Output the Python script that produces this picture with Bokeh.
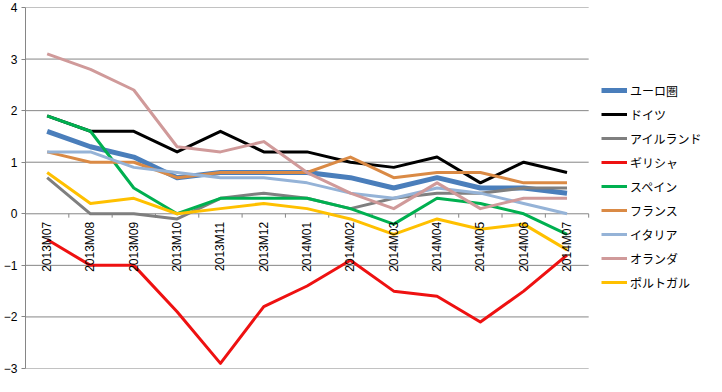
import math
from bokeh.plotting import figure
from bokeh.models import Range1d, FixedTicker, Legend, LegendItem, ColumnDataSource
from bokeh.core.properties import value
from bokeh.embed import file_html
from bokeh.resources import INLINE

months = ["2013M07", "2013M08", "2013M09", "2013M10", "2013M11", "2013M12",
          "2014M01", "2014M02", "2014M03", "2014M04", "2014M05", "2014M06", "2014M07"]

euro_area   = [1.6, 1.3, 1.1, 0.7, 0.8, 0.8, 0.8, 0.7, 0.5, 0.7, 0.5, 0.5, 0.4]
germany     = [1.9, 1.6, 1.6, 1.2, 1.6, 1.2, 1.2, 1.0, 0.9, 1.1, 0.6, 1.0, 0.8]
ireland     = [0.7, 0.0, 0.0, -0.1, 0.3, 0.4, 0.3, 0.1, 0.3, 0.4, 0.4, 0.5, 0.5]
greece      = [-0.5, -1.0, -1.0, -1.9, -2.9, -1.8, -1.4, -0.9, -1.5, -1.6, -2.1, -1.5, -0.8]
spain       = [1.9, 1.6, 0.5, 0.0, 0.3, 0.3, 0.3, 0.1, -0.2, 0.3, 0.2, 0.0, -0.4]
france      = [1.2, 1.0, 1.0, 0.7, 0.8, 0.8, 0.8, 1.1, 0.7, 0.8, 0.8, 0.6, 0.6]
italy       = [1.2, 1.2, 0.9, 0.8, 0.7, 0.7, 0.6, 0.4, 0.3, 0.5, 0.4, 0.2, 0.0]
netherlands = [3.1, 2.8, 2.4, 1.3, 1.2, 1.4, 0.8, 0.4, 0.1, 0.6, 0.1, 0.3, 0.3]
portugal    = [0.8, 0.2, 0.3, 0.0, 0.1, 0.2, 0.1, -0.1, -0.4, -0.1, -0.3, -0.2, -0.7]

series_names = ["ユーロ圏", "ドイツ", "アイルランド", "ギリシャ", "スペイン",
                "フランス", "イタリア", "オランダ", "ポルトガル"]
series_values = [euro_area, germany, ireland, greece, spain,
                 france, italy, netherlands, portugal]
series_colors = ["#4A7EBB", "#000000", "#7F7F7F", "#EE1111", "#00B050",
                 "#DA8A45", "#95B3D7", "#D09A9A", "#FFC000"]
series_widths = [5, 3, 3, 3, 3, 3, 3, 3, 3]

y_ticks = [-3, -2, -1, 0, 1, 2, 3, 4]

grid_color = "#868686"
n = len(months)
xs = list(range(n))

FIG_W, FIG_H = 706, 376
BORDER_L = 24
PLOT_AREA_W = 564          # width of the gridded plot area in px
frame_w = FIG_W - BORDER_L
x_end = -0.5 + n * frame_w / PLOT_AREA_W   # extra room on the right holds the legend

p = figure(width=FIG_W, height=FIG_H, output_backend="svg", toolbar_location=None,
           x_range=Range1d(-0.5, x_end), y_range=Range1d(y_ticks[0], y_ticks[-1]),
           x_axis_location=None,
           min_border_left=BORDER_L, min_border_top=7, min_border_bottom=8, min_border_right=0)
p.outline_line_color = None
p.background_fill_color = "white"
p.border_fill_color = "white"

p.yaxis.ticker = FixedTicker(ticks=y_ticks)
p.yaxis.axis_line_color = grid_color
p.yaxis.major_tick_line_color = grid_color
p.yaxis.major_tick_out = 4
p.yaxis.major_tick_in = 0
p.yaxis.minor_tick_line_color = None
p.yaxis.major_label_text_font = "Liberation Sans"
p.yaxis.major_label_text_font_size = "12px"
p.yaxis.major_label_text_color = "#000000"
p.yaxis.major_label_standoff = 4

p.xgrid.visible = False
p.ygrid.visible = False

bounds = [i - 0.5 for i in range(n + 1)]
# horizontal gridlines spanning the category area only
p.segment(x0=[bounds[0]] * len(y_ticks), y0=y_ticks, x1=[bounds[-1]] * len(y_ticks), y1=y_ticks,
          line_color=grid_color, line_width=1)
# category boundary tick marks below the zero line
p.segment(x0=bounds, y0=[0] * len(bounds), x1=bounds, y1=[-0.075] * len(bounds),
          line_color=grid_color, line_width=1)

items = []
for name, vals, col, w in zip(series_names, series_values, series_colors, series_widths):
    r = p.line(xs, vals, line_color=col, line_width=w, line_join="round")
    items.append(LegendItem(label=name, renderers=[r]))

# category labels, rotated, hanging below the zero line
src = ColumnDataSource(dict(x=xs, y=[0] * n, t=months))
p.text(x="x", y="y", text="t", source=src, angle=math.pi / 2,
       text_align="right", text_baseline="middle", y_offset=8,
       text_font=value("Liberation Sans"), text_font_size="12px", text_color="#000000")

legend = Legend(items=items, location=(576, 76), border_line_color=None,
                background_fill_alpha=0, glyph_width=26, glyph_height=20,
                label_height=20, spacing=4, padding=2, margin=0, label_standoff=3,
                label_text_font="Noto Sans CJK JP", label_text_font_size="12px",
                label_text_color="#000000")
p.add_layout(legend, "center")

open("out.html", "w").write(file_html(p, INLINE))
